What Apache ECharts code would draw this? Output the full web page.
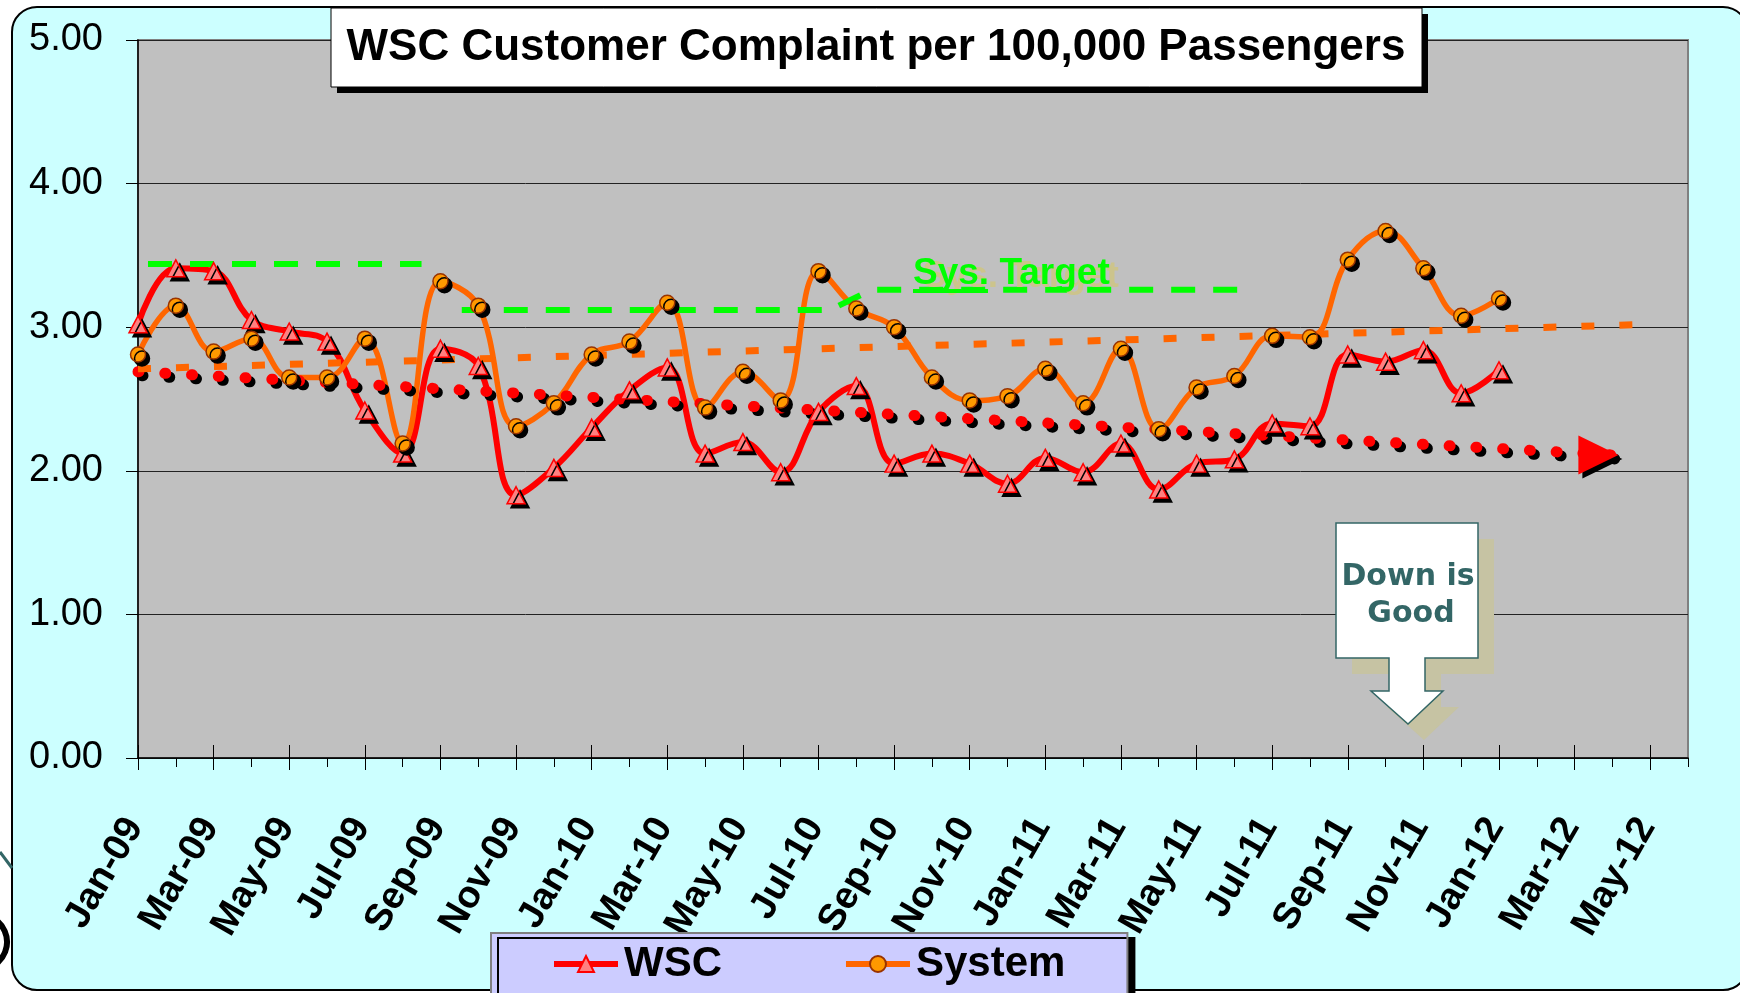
<!DOCTYPE html>
<html>
<head>
<meta charset="utf-8">
<title>WSC Customer Complaint per 100,000 Passengers</title>
<script src="https://cdn.jsdelivr.net/npm/echarts@6/dist/echarts.min.js"></script>
<style>
html, body { margin: 0; padding: 0; background: #fff; overflow: hidden; }
#frame {
    position: absolute; left: 11px; top: 6px; width: 1738px; height: 985px;
    box-sizing: border-box; border: 2.5px solid #000; border-radius: 26px;
    background: #CCFFFF;
}
#chart { position: absolute; left: 0; top: 0; width: 1740px; height: 993px; }
</style>
</head>
<body>
<div id="frame"></div>
<div id="chart"></div>
<script>
// months on the category axis (Jan-09 .. Jun-12)
const months = [
    'Jan-09', 'Feb-09', 'Mar-09', 'Apr-09', 'May-09', 'Jun-09', 'Jul-09', 'Aug-09', 'Sep-09', 'Oct-09', 'Nov-09', 'Dec-09',
    'Jan-10', 'Feb-10', 'Mar-10', 'Apr-10', 'May-10', 'Jun-10', 'Jul-10', 'Aug-10', 'Sep-10', 'Oct-10', 'Nov-10', 'Dec-10',
    'Jan-11', 'Feb-11', 'Mar-11', 'Apr-11', 'May-11', 'Jun-11', 'Jul-11', 'Aug-11', 'Sep-11', 'Oct-11', 'Nov-11', 'Dec-11',
    'Jan-12', 'Feb-12', 'Mar-12', 'Apr-12', 'May-12', 'Jun-12'
];

// complaints per 100,000 passengers
const wsc = [
    3.02, 3.41, 3.39, 3.05, 2.97, 2.90, 2.42, 2.12, 2.85, 2.73, 1.83, 2.02,
    2.30, 2.56, 2.72, 2.12, 2.20, 1.99, 2.41, 2.59, 2.05, 2.12, 2.05, 1.91,
    2.09, 1.99, 2.19, 1.87, 2.05, 2.08, 2.33, 2.31, 2.81, 2.76, 2.84, 2.54,
    2.70
];
const system = [
    2.81, 3.15, 2.83, 2.92, 2.65, 2.65, 2.92, 2.19, 3.32, 3.15, 2.31, 2.47,
    2.81, 2.90, 3.17, 2.44, 2.69, 2.49, 3.39, 3.13, 3.00, 2.65, 2.49, 2.52,
    2.71, 2.47, 2.85, 2.29, 2.58, 2.66, 2.94, 2.93, 3.47, 3.67, 3.41, 3.08,
    3.20
];

// trend lines and target: [month index, value]
const wscTrend = [[0, 2.69], [39, 2.11]];
const systemTrend = [[0, 2.71], [40, 3.02]];
const sysTarget = [
    [0, 3.44], [7.5, 3.44], [7.9, '-'],
    [8.3, 3.12], [18.3, 3.12], [19.4, 3.26], [29.1, 3.26]
];

const yMin = 0, yMax = 5, yStep = 1;

const FONT = '"Liberation Sans", Arial, sans-serif';
const shadow = { shadowColor: '#000', shadowOffsetX: 4, shadowOffsetY: 4, shadowBlur: 0 };

const chart = echarts.init(document.getElementById('chart'), null, { renderer: 'canvas' });

// last point of the WSC trend carries the arrow head
const wscTrendData = wscTrend.map((p, i) => i < wscTrend.length - 1 ? { value: p } : {
    value: p,
    symbol: 'triangle',
    symbolSize: [39, 40],
    symbolRotate: -90,
    symbolOffset: [-14, 0],
    itemStyle: Object.assign({ color: '#FF0000', borderWidth: 0 }, shadow)
});

chart.setOption({
    animation: false,
    backgroundColor: 'transparent',
    grid: {
        left: 138, right: 52, top: 40, bottom: 235,
        show: true,
        backgroundColor: '#C0C0C0',
        borderColor: '#808080',
        borderWidth: 2,
        outerBoundsMode: 'none'
    },
    legend: {
        data: ['WSC', 'System'],
        left: 491, top: 933,
        padding: [10, 62, 30, 60],
        itemGap: 121,
        itemWidth: 64,
        itemHeight: 20,
        selectedMode: false,
        backgroundColor: '#CCCCFF',
        borderColor: '#7f7f7f',
        borderWidth: 2,
        shadowColor: '#000', shadowOffsetX: 7, shadowOffsetY: 5, shadowBlur: 0,
        lineStyle: { width: 6 },
        textStyle: { fontFamily: FONT, fontWeight: 'bold', fontSize: 42, color: '#000', padding: [0, 0, 0, 1] }
    },
    xAxis: [
        {
            type: 'category', data: months, boundaryGap: false, position: 'bottom',
            axisLine: { show: true, onZero: false, lineStyle: { color: '#000', width: 1.5 } },
            axisTick: { show: true, interval: 0, length: 9, lineStyle: { color: '#000' } },
            axisLabel: {
                interval: 1, rotate: 60, margin: 57, padding: [0, 7, 24, 0],
                fontFamily: FONT, fontWeight: 'bold', fontSize: 38, color: '#000'
            },
            splitLine: { show: false }
        },
        {
            // long ticks every two months (outside part)
            type: 'category', data: months, boundaryGap: false, position: 'bottom',
            axisLine: { show: false, onZero: false },
            axisTick: { show: true, interval: 1, length: 12, lineStyle: { color: '#000' } },
            axisLabel: { show: false }, splitLine: { show: false }
        },
        {
            // long ticks every two months (inside part)
            type: 'category', data: months, boundaryGap: false, position: 'bottom',
            axisLine: { show: false, onZero: false },
            axisTick: { show: true, inside: true, interval: 1, length: 13, lineStyle: { color: '#000' } },
            axisLabel: { show: false }, splitLine: { show: false }
        },
        {
            // numeric month axis for trend / target lines
            type: 'value', min: 0, max: months.length - 1, show: false
        }
    ],
    yAxis: {
        type: 'value', min: yMin, max: yMax, interval: yStep,
        axisLine: { show: true, lineStyle: { color: '#000', width: 1.5 } },
        axisTick: { show: true, length: 12, lineStyle: { color: '#000' } },
        axisLabel: {
            margin: 35, fontFamily: FONT, fontSize: 38, color: '#000',
            formatter: v => v.toFixed(2)
        },
        splitLine: { show: true, lineStyle: { color: '#222', width: 1 } }
    },
    series: [
        {
            name: 'WSC', type: 'line', data: wsc, smooth: 0.4,
            symbol: 'triangle', symbolSize: [18, 17],
            lineStyle: { color: '#FF0000', width: 6 },
            itemStyle: Object.assign({ color: '#FF8080', borderColor: '#FF0000', borderWidth: 1.5 }, shadow),
            emphasis: { disabled: true }
        },
        {
            name: 'System', type: 'line', data: system, smooth: 0.4,
            symbol: 'circle', symbolSize: 15,
            lineStyle: { color: '#FF6600', width: 5.5 },
            itemStyle: Object.assign({ color: '#FF9900', borderColor: '#993300', borderWidth: 1.5 }, shadow),
            emphasis: { disabled: true }
        },
        {
            name: 'WSC trend', type: 'line', xAxisIndex: 3, data: wscTrendData,
            symbol: 'none', silent: true,
            lineStyle: Object.assign({ color: '#FF0000', width: 11, type: [1, 25.8], cap: 'round' }, shadow),
            emphasis: { disabled: true }
        },
        {
            name: 'System trend', type: 'line', xAxisIndex: 3, data: systemTrend,
            symbol: 'none', silent: true,
            lineStyle: { color: '#FF6600', width: 7, type: [13, 25], cap: 'butt' },
            emphasis: { disabled: true }
        },
        {
            name: 'Sys. Target', type: 'line', xAxisIndex: 3, data: sysTarget,
            symbol: 'none', silent: true, connectNulls: false,
            lineStyle: { color: '#00FF00', width: 6, type: [24, 18], dashOffset: 32, cap: 'butt' },
            emphasis: { disabled: true }
        }
    ],
    graphic: [
        // slide leftovers at the left edge
        { type: 'line', shape: { x1: 0, y1: 852, x2: 12, y2: 868 }, style: { stroke: '#336666', lineWidth: 3 } },
        { type: 'arc', shape: { cx: -20, cy: 942, r: 27, startAngle: -1.2, endAngle: 1.2 }, style: { stroke: '#000', lineWidth: 6, fill: null } },

        // title box
        { type: 'rect', z: 100, shape: { x: 337, y: 14, width: 1091, height: 79 }, style: { fill: '#000' } },
        { type: 'rect', z: 101, shape: { x: 331, y: 8, width: 1091, height: 79 }, style: { fill: '#fff', stroke: '#000', lineWidth: 1 } },
        {
            type: 'text', z: 102, x: 876, y: 48,
            style: { text: 'WSC Customer Complaint per 100,000 Passengers', font: 'bold 44px ' + FONT, fill: '#000', align: 'center', verticalAlign: 'middle' }
        },

        // target label
        {
            type: 'text', z: 102, x: 922, y: 277,
            style: { text: 'Sys. Target', font: 'bold 37px ' + FONT, fill: '#CCC48C', align: 'left', verticalAlign: 'middle' }
        },
        {
            type: 'text', z: 103, x: 913, y: 274,
            style: { text: 'Sys. Target', font: 'bold 37px ' + FONT, fill: '#00FF00', align: 'left', verticalAlign: 'middle' }
        },
        { type: 'line', z: 103, shape: { x1: 913, y1: 291, x2: 988, y2: 291 }, style: { stroke: '#00FF00', lineWidth: 4 } },

        // "Down is Good" callout
        {
            type: 'polygon', z: 100,
            shape: { points: [[1352, 539], [1494, 539], [1494, 674], [1441, 674], [1441, 707], [1459, 707], [1424, 740], [1387, 707], [1405, 707], [1405, 674], [1352, 674]] },
            style: { fill: '#C6C3A3' }
        },
        {
            type: 'polygon', z: 101,
            shape: { points: [[1336, 523], [1478, 523], [1478, 658], [1425, 658], [1425, 691], [1443, 691], [1408, 724], [1371, 691], [1389, 691], [1389, 658], [1336, 658]] },
            style: { fill: '#fff', stroke: '#336666', lineWidth: 1.5 }
        },
        {
            type: 'text', z: 102, x: 1408, y: 577,
            style: { text: 'Down is', font: 'bold 30px "DejaVu Sans", Verdana, sans-serif', fill: '#336666', align: 'center', verticalAlign: 'middle' }
        },
        {
            type: 'text', z: 102, x: 1411, y: 614,
            style: { text: 'Good', font: 'bold 30px "DejaVu Sans", Verdana, sans-serif', fill: '#336666', align: 'center', verticalAlign: 'middle' }
        }
    ]
});
</script>
</body>
</html>
